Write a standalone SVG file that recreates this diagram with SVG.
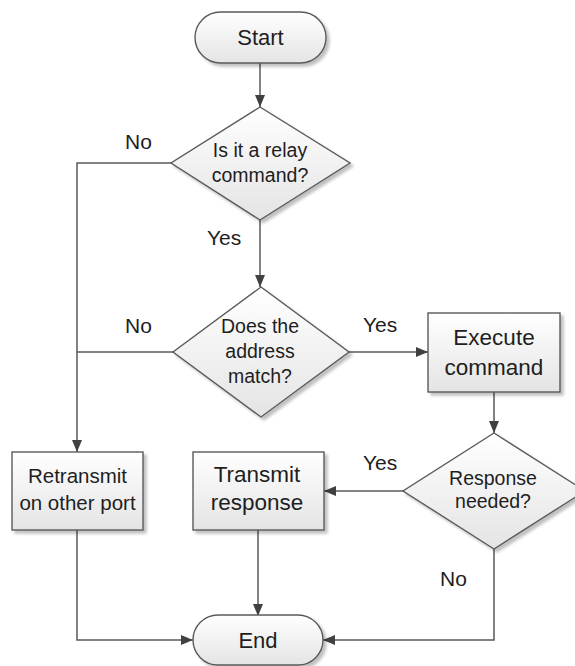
<svg xmlns="http://www.w3.org/2000/svg" width="575" height="666" viewBox="0 0 575 666">
  <defs>
    <linearGradient id="shapeFill" x1="0" y1="0" x2="0" y2="1">
      <stop offset="0" stop-color="#ffffff"/>
      <stop offset="1" stop-color="#e4e4e4"/>
    </linearGradient>
    <filter id="shadow" x="-10%" y="-10%" width="130%" height="130%">
      <feGaussianBlur in="SourceAlpha" stdDeviation="1.5"/>
      <feOffset dx="2.5" dy="2.5" result="blur"/>
      <feComponentTransfer><feFuncA type="linear" slope="0.25"/></feComponentTransfer>
      <feMerge><feMergeNode/><feMergeNode in="SourceGraphic"/></feMerge>
    </filter>
    <marker id="arrow" viewBox="0 0 12 10" refX="12" refY="5" markerWidth="12" markerHeight="10" markerUnits="userSpaceOnUse" orient="auto">
      <path d="M0,0 L12,5 L0,10 z" fill="#404040"/>
    </marker>
  </defs>
  <style>
    .shape { fill: url(#shapeFill); stroke: #5a5a5a; stroke-width: 1.4; filter: url(#shadow); }
    .conn { fill: none; stroke: #5a5a5a; stroke-width: 1.5; }
    text { font-family: "Liberation Sans", Arial, sans-serif; fill: #1e1e1e; text-anchor: middle; }
    .term { font-size: 22px; }
    .dec { font-size: 19.5px; }
    .proc { font-size: 22.5px; }
    .proc-s { font-size: 20.5px; }
    .lbl { font-size: 21px; text-anchor: start; }
  </style>

  <g id="connectors">
    <path class="conn" d="M260,63 V107" marker-end="url(#arrow)"/>
    <path class="conn" d="M260,220 V287" marker-end="url(#arrow)"/>
    <path class="conn" d="M171,163 H77 V452" marker-end="url(#arrow)"/>
    <path class="conn" d="M173,352 H77"/>
    <path class="conn" d="M349,352 H428" marker-end="url(#arrow)"/>
    <path class="conn" d="M494,392 V433" marker-end="url(#arrow)"/>
    <path class="conn" d="M403,491 H324" marker-end="url(#arrow)"/>
    <path class="conn" d="M258,530 V616" marker-end="url(#arrow)"/>
    <path class="conn" d="M77,530 V640 H193" marker-end="url(#arrow)"/>
    <path class="conn" d="M494,549 V640 H323" marker-end="url(#arrow)"/>
  </g>

  <g id="labels">
    <text class="lbl" x="125" y="149">No</text>
    <text class="lbl" x="207" y="245">Yes</text>
    <text class="lbl" x="125" y="333">No</text>
    <text class="lbl" x="363" y="332">Yes</text>
    <text class="lbl" x="363" y="470">Yes</text>
    <text class="lbl" x="440" y="586">No</text>
  </g>

  <g id="start">
    <rect class="shape" x="195" y="12" width="131" height="51" rx="25.5" ry="25.5"/>
    <text class="term" x="260.5" y="45">Start</text>
  </g>

  <g id="is-relay">
    <polygon class="shape" points="260,107 350,163 260,220 171,163"/>
    <text class="dec" x="260" y="157">Is it a relay</text>
    <text class="dec" x="260" y="182">command?</text>
  </g>

  <g id="address-match">
    <polygon class="shape" points="261,287 349,352 261,417 173,352"/>
    <text class="dec" x="260" y="333">Does the</text>
    <text class="dec" x="260" y="358">address</text>
    <text class="dec" x="260" y="383">match?</text>
  </g>

  <g id="execute">
    <rect class="shape" x="428" y="313" width="132" height="79"/>
    <text class="proc" x="494" y="345">Execute</text>
    <text class="proc" x="494" y="375">command</text>
  </g>

  <g id="response-needed">
    <polygon class="shape" points="494,433 585,491 494,549 403,491"/>
    <text class="dec" x="493" y="485">Response</text>
    <text class="dec" x="493" y="508">needed?</text>
  </g>

  <g id="transmit">
    <rect class="shape" x="193" y="452" width="131" height="78"/>
    <text class="proc" x="257" y="482">Transmit</text>
    <text class="proc" x="257" y="510">response</text>
  </g>

  <g id="retransmit">
    <rect class="shape" x="12" y="452" width="131" height="78"/>
    <text class="proc-s" x="77.5" y="483">Retransmit</text>
    <text class="proc-s" x="77.5" y="510">on other port</text>
  </g>

  <g id="end">
    <rect class="shape" x="193" y="615" width="130" height="50" rx="25" ry="25"/>
    <text class="term" x="258" y="648">End</text>
  </g>
</svg>
